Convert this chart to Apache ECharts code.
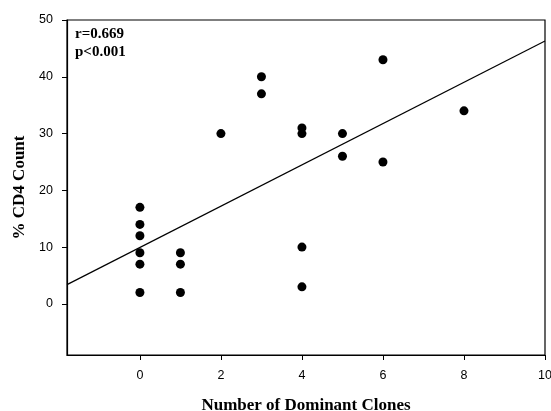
<!DOCTYPE html>
<html><head><meta charset="utf-8">
<script src="https://cdn.jsdelivr.net/npm/echarts@6/dist/echarts.min.js"></script>
<style>html,body{margin:0;padding:0;background:#fff}#c{width:551px;height:411px}</style>
</head><body><div id="c"></div>
<script>
var xValues = [0,0,0,0,0,0, 1,1,1, 2, 3,3, 4,4,4,4, 5,5, 6,6, 8];
var yValues = [17,14,12,9,7,2, 9,7,2, 30, 40,37, 31,30,10,3, 30,26, 43,25, 34];
var fitX = [-1.8, 10];
var fitY = [3.4, 46.3];
var xTicks = [0,2,4,6,8,10];
var yTicks = [0,10,20,30,40,50];
var annot = ['r=0.669', 'p<0.001'];

var pts = xValues.map(function(x,i){return [x, yValues[i]];});
var line = fitX.map(function(x,i){return [x, fitY[i]];});

var chart = echarts.init(document.getElementById('c'), null, {renderer:'canvas'});
chart.setOption({
  animation:false,
  backgroundColor:'#fff',
  grid:{left:67,right:6,top:20,bottom:56,containLabel:false,outerBoundsMode:'none',show:true,borderColor:'#000',borderWidth:1.2,backgroundColor:'transparent'},
  xAxis:{type:'value',min:-1.8,max:10,
    name:'Number of Dominant Clones',nameLocation:'middle',nameGap:42,
    nameTextStyle:{fontFamily:'Liberation Serif',fontWeight:'bold',fontSize:17,color:'#000'},
    axisLine:{show:true,onZero:false,lineStyle:{color:'#000',width:1.2}},
    axisTick:{show:true,inside:false,length:5,customValues:xTicks,lineStyle:{color:'#000'}},
    axisLabel:{customValues:xTicks,margin:14,fontFamily:'Liberation Sans',fontSize:12.5,color:'#000'},
    splitLine:{show:false}},
  yAxis:{type:'value',min:-9,max:50,
    name:'% CD4 Count',nameLocation:'middle',nameGap:39,
    nameTextStyle:{fontFamily:'Liberation Serif',fontWeight:'bold',fontSize:17,color:'#000'},
    axisLine:{show:true,onZero:false,lineStyle:{color:'#000',width:1.2}},
    axisTick:{show:true,inside:false,length:5,customValues:yTicks,lineStyle:{color:'#000'}},
    axisLabel:{customValues:yTicks,margin:14,fontFamily:'Liberation Sans',fontSize:12.5,color:'#000'},
    splitLine:{show:false}},
  series:[
    {type:'line',data:line,symbol:'none',lineStyle:{color:'#000',width:1.2},z:2},
    {type:'scatter',data:pts,symbol:'circle',symbolSize:9,itemStyle:{color:'#000',opacity:1},z:3}
  ],
  graphic:[
    {type:'text',left:75,top:27,style:{text:annot[0],fontFamily:'Liberation Serif',fontWeight:'bold',fontSize:15,fill:'#000'}},
    {type:'text',left:75,top:45,style:{text:annot[1],fontFamily:'Liberation Serif',fontWeight:'bold',fontSize:15,fill:'#000'}}
  ]
});
</script></body></html>
